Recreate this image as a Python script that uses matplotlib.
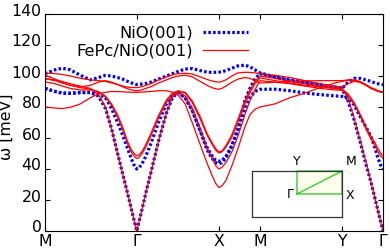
import numpy as np
import matplotlib
matplotlib.use("Agg")
import matplotlib.pyplot as plt
import matplotlib.transforms as mtransforms
from matplotlib.patches import Rectangle

# high-symmetry path M-G-X-M-Y-G (rectangular zone, |GX| = 2 |GY|)
tick_labels = ["M", "Γ", "X", "M", "Y", "Γ"]
seg_lengths = [np.sqrt(5.0), 2.0, 1.0, 2.0, 1.0]

# sample positions (fraction along each segment)
frac1 = [0, .11, .187, .275, .385, .495, .582, .659, .725, .791, .846, .901, .945, .978, 1]
frac2 = [0, .024, .06, .108, .169, .265, .361, .434, .506, .59, .675, .771, .855, .916, .964, 1]
frac3 = [0, .073, .171, .317, .463, .634, .756, .878, 1]
frac4 = [0, .183, .366, .549, .732, .915, 1]
frac5 = [0, .146, .293, .439, .585, .707, .805, .878, .951, 1]

# NiO(001) bands [meV]
nio_b = [101.5, 104, 105, 104, 100.5, 97.5, 99, 100.4, 100, 99, 98, 96.5, 95.5, 94.8, 94.5,
         94.5, 94.6, 94.8, 95.2, 96, 98, 100, 101.5, 103, 104.5, 104.8, 103.5, 102.5, 102.3, 102.4, 102.5,
         102.5, 102.7, 103.5, 105, 106.5, 107, 106, 104, 102,
         102, 99.5, 97.5, 96, 94.5, 92.8, 92,
         92, 96, 98.5, 98.5, 97.5, 96.5, 95.5, 95, 94.5, 94.3]
nio_a = [92, 90, 89, 88.8, 89.3, 89.5, 88.5, 86, 79, 70, 62, 53, 46, 41.5, 40,
         40, 40.5, 43, 48, 56, 70, 82, 88, 89.5, 86, 78, 65, 54, 48.5, 45.5, 45,
         45, 45.5, 48, 55, 65, 78, 86, 90, 91.4,
         91.4, 91.5, 90.5, 89, 88, 87.2, 86.8,
         86.8, 85.5, 81.5, 74, 67, 61, 53.5, 47, 42, 40]
nio_c = [92, 90, 89, 88.8, 89.3, 89.3, 87, 79, 66, 50, 37, 24, 13.2, 5.3, 0,
         0, 5.3, 13, 24, 37, 58, 76, 86, 89.5, 86, 78, 65, 52.5, 47, 44, 43.5,
         43.5, 44, 47, 55, 66, 84, 92, 98, 101.5,
         101.5, 99, 97, 95.5, 94, 92.5, 91.8,
         91.8, 84, 72, 58, 43, 31.5, 21, 13, 5.2, 0]

# FePc/NiO(001) bands [meV]
fepc_a = [98.3, 97.5, 96.5, 95, 93.5, 92, 88, 80, 66, 50, 37, 24, 13.2, 5.3, 0,
          0, 5.3, 13, 24, 37, 58, 76, 86.5, 90, 89.5, 84, 74, 63, 57, 53, 51,
          51, 51.5, 55, 62, 72, 84, 91, 96.5, 100,
          100, 98.5, 96.5, 95, 93.5, 92.3, 92,
          92, 86, 73, 59, 44.5, 31.5, 21, 13, 5.2, 0]
fepc_b = [96.2, 95, 93.5, 92, 91, 91, 90, 87, 82, 75, 67, 57.5, 52, 49.5, 48.5,
          48.5, 49, 51, 55.5, 62.5, 74.5, 84.5, 89, 90.5, 89, 83, 72.5, 62, 56, 52, 50.3,
          50.3, 51, 54, 60.5, 70, 82, 89, 95, 98.8,
          98.8, 97, 95.5, 94, 93, 92, 91.5,
          91.5, 88.5, 83, 75.5, 67, 61, 57, 53, 50, 48.6]
fepc_c = [98.3, 97, 95.5, 94, 92.5, 91.5, 89.8, 86.5, 81, 73.5, 65.5, 56, 50.5, 47.8, 46.8,
          46.8, 47.3, 49.5, 54, 61, 73, 83, 88, 89.5, 87, 79, 66, 54, 47, 42, 40,
          40, 41, 44, 51, 61, 75, 84, 91, 97,
          97, 96, 95, 93.5, 92, 91, 90.8,
          90.8, 87.5, 82, 74.5, 66, 59.5, 55, 51, 48, 47]
fepc_d = [80, 79.3, 79, 79.8, 82, 86, 88.5, 89.5, 90, 90, 89.8, 89.6, 89.5, 89.5, 89.5,
          89.5, 89.5, 89.6, 89.8, 90, 90.5, 90.5, 89.5, 87.5, 82, 70, 56, 44, 36, 30.5, 28,
          28, 29, 32.5, 42, 53, 67, 75, 78.5, 80,
          80, 82, 86, 89, 92.5, 95.5, 96.5,
          96.5, 97.3, 97, 96, 94, 92, 91, 90, 89.6, 89.4]
fepc_e = [102, 101.5, 101, 100, 98.5, 97.5, 97, 96.5, 95.5, 94.5, 93.5, 92.8, 92.6, 92.5, 92.5,
          92.5, 92.6, 93.2, 94, 95, 97.5, 99.5, 100.8, 101.5, 101.8, 101.3, 99.5, 97.8, 96.8, 96.2, 96,
          96, 96.5, 97.5, 100, 102, 102.4, 102.3, 102, 101.5,
          101.5, 100.5, 99, 97, 95, 93.5, 93,
          93, 95, 96.5, 96, 94, 92, 91, 90.2, 89.7, 89.5]
fepc_f = [100.5, 98, 96, 94, 93, 94, 96, 97, 96, 94.5, 93, 91.8, 91, 90.6, 90.5,
          90.5, 90.6, 91, 92, 93, 95.5, 97.5, 99, 100, 100.5, 99.5, 96.5, 94, 92.5, 91.7, 91.4,
          91.4, 92, 93.5, 96, 98, 99, 98.5, 97, 95.5,
          95.5, 96, 96.5, 96.8, 97, 97, 97,
          97, 97.5, 97.5, 96.5, 94.5, 92.5, 91.5, 90.5, 90, 89.8]

# build path coordinate
starts = np.concatenate([[0], np.cumsum(seg_lengths)])
k = np.concatenate([starts[i] + np.array(f) * seg_lengths[i]
                    for i, f in enumerate([frac1, frac2, frac3, frac4, frac5])])

W, H, DPI = 390, 250, 100
fig = plt.figure(figsize=(W / DPI, H / DPI), dpi=DPI)
ax = fig.add_axes([45 / W, 1 - 231 / H, (383 - 45) / W, (231 - 14) / H])

blue_style = dict(color="#0000ff", lw=2.3, linestyle=(0, (0.8, 0.7)))
red_style = dict(color="#ff0000", lw=0.9)
for i, band in enumerate([nio_b, nio_a, nio_c]):
    ax.plot(k, band, label="NiO(001)" if i == 0 else None, **blue_style)
for i, band in enumerate([fepc_a, fepc_b, fepc_c, fepc_d, fepc_e, fepc_f]):
    ax.plot(k, band, label="FePc/NiO(001)" if i == 0 else None, **red_style)

ax.set_xlim(starts[0], starts[-1])
ax.set_ylim(0, 140)
ax.set_xticks(starts)
ax.set_xticklabels(tick_labels)
ax.set_yticks(np.arange(0, 141, 20))
ax.tick_params(direction="in", top=True, right=True, labelsize=11.3, length=3.5, width=0.8, pad=2.5)
# y tick labels sit slightly above their ticks in the reference
shift = mtransforms.ScaledTranslation(0, 4.5 / DPI, fig.dpi_scale_trans)
for lbl in ax.get_yticklabels():
    lbl.set_transform(lbl.get_transform() + shift)
ax.set_ylabel("ω [meV]", fontsize=11.3)
ax.yaxis.set_label_coords(-0.092, 0.48)
for s in ax.spines.values():
    s.set_linewidth(0.8)

leg = ax.legend(loc="upper right", bbox_to_anchor=(0.62, 0.975), frameon=False,
                markerfirst=False, fontsize=11.8, handlelength=2.75, handletextpad=0.6,
                labelspacing=0.17, borderaxespad=0.0)

# inset: Brillouin zone sketch
ins = fig.add_axes([252 / W, 1 - 217 / H, 90 / W, 46 / H])
ins.set_xlim(-1, 1)
ins.set_ylim(-1, 1)
ins.set_xticks([])
ins.set_yticks([])
for s in ins.spines.values():
    s.set_linewidth(0.9)
    s.set_color("#333333")
ins.add_patch(Rectangle((0, 0), 1, 1, facecolor="#ffffec", edgecolor="none"))
ins.plot([0, 0, 1, 1, 0, 1], [0, 1, 1, 0, 0, 1], color="#33cc33", lw=1.0, clip_on=False)
ins.text(0, 1.12, "Y", ha="center", va="bottom", fontsize=9)
ins.text(1.08, 1.12, "M", ha="left", va="bottom", fontsize=9)
ins.text(-0.08, 0, "Γ", ha="right", va="center", fontsize=9)
ins.text(1.08, -0.05, "X", ha="left", va="center", fontsize=9)
for t in ins.texts:
    t.set_clip_on(False)

fig.savefig("out.png", dpi=DPI)
